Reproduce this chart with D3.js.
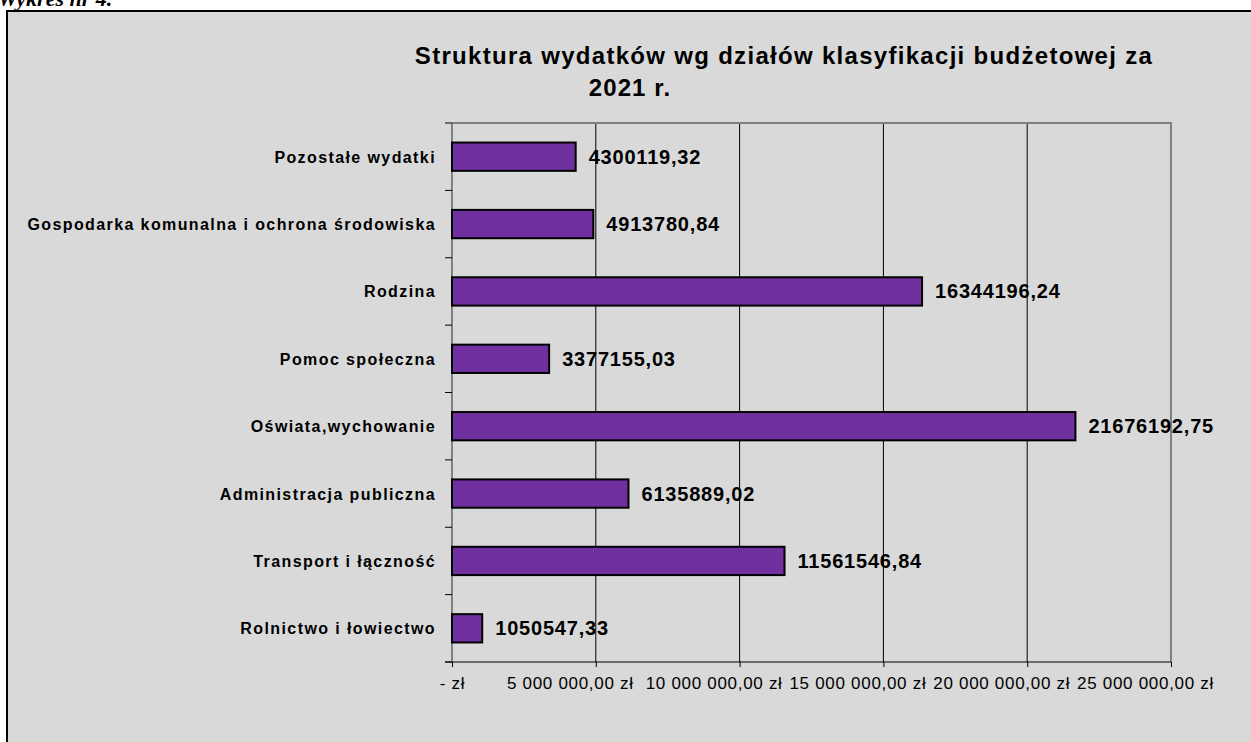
<!DOCTYPE html>
<html>
<head>
<meta charset="utf-8">
<script src="https://cdn.jsdelivr.net/npm/d3@7"></script>
<style>
  body { margin: 0; background: #fff; }
  svg { display: block; }
</style>
</head>
<body>
<div id="chart"></div>
<script>
// data
const categories = [
    "Pozostałe wydatki",
    "Gospodarka komunalna i ochrona środowiska",
    "Rodzina",
    "Pomoc społeczna",
    "Oświata,wychowanie",
    "Administracja publiczna",
    "Transport i łączność",
    "Rolnictwo i łowiectwo"
];
const values = [4300119.32, 4913780.84, 16344196.24, 3377155.03, 21676192.75, 6135889.02, 11561546.84, 1050547.33];
const tickValues = [0, 5000000, 10000000, 15000000, 20000000, 25000000];
const titleLines = ["Struktura wydatków wg działów klasyfikacji budżetowej za", "2021 r."];

const W = 1251, H = 742;
const plot = { left: 452, right: 1171, top: 123, bottom: 662 };

const svg = d3.select("#chart").append("svg")
    .attr("width", W)
    .attr("height", H);

// caption above the frame (cut off at the top, as in the source)
svg.append("text")
    .attr("x", -2)
    .attr("y", 6)
    .style("font-family", "'Liberation Serif', 'Times New Roman', serif")
    .style("font-weight", "bold")
    .style("font-style", "italic")
    .style("font-size", "22px")
    .text("Wykres nr 4.");

// chart frame
svg.append("rect")
    .attr("x", 7)
    .attr("y", 11)
    .attr("width", W + 20)
    .attr("height", H + 20)
    .style("fill", "#d9d9d9")
    .style("stroke", "#000")
    .style("stroke-width", 2);

// title
svg.append("text")
    .attr("x", 784)
    .attr("y", 64)
    .attr("text-anchor", "middle")
    .style("font-family", "'Liberation Sans', Arial, sans-serif")
    .style("font-weight", "bold")
    .style("font-size", "24px")
    .style("letter-spacing", "1.3px")
    .text(titleLines[0]);
svg.append("text")
    .attr("x", 630)
    .attr("y", 96)
    .attr("text-anchor", "middle")
    .style("font-family", "'Liberation Sans', Arial, sans-serif")
    .style("font-weight", "bold")
    .style("font-size", "24px")
    .style("letter-spacing", "1.1px")
    .text(titleLines[1]);

const x = d3.scaleLinear()
    .domain([0, 25000000])
    .range([plot.left, plot.right]);

const y = d3.scaleBand()
    .domain(categories)
    .range([plot.top, plot.bottom])
    .paddingInner(0.58)
    .paddingOuter(0.29);

const pl = d3.formatLocale({ decimal: ",", thousands: " ", grouping: [3], currency: ["", " zł"] });
const money = pl.format("$,.2f");

// gridlines
svg.append("g")
    .selectAll("line")
    .data(tickValues.slice(1, -1))
    .join("line")
    .attr("x1", d => x(d))
    .attr("x2", d => x(d))
    .attr("y1", plot.top)
    .attr("y2", plot.bottom)
    .style("stroke", "#000")
    .style("stroke-width", 1);

// plot border (top + right)
svg.append("path")
    .attr("d", `M${plot.left},${plot.top} H${plot.right} V${plot.bottom}`)
    .style("fill", "none")
    .style("stroke", "#808080")
    .style("stroke-width", 2);

// left axis line
svg.append("line")
    .attr("x1", plot.left)
    .attr("x2", plot.left)
    .attr("y1", plot.top)
    .attr("y2", plot.bottom)
    .style("stroke", "#808080")
    .style("stroke-width", 2);

// category ticks on band boundaries
svg.append("g")
    .selectAll("line")
    .data(d3.range(categories.length + 1))
    .join("line")
    .attr("x1", plot.left - 7)
    .attr("x2", plot.left)
    .attr("y1", i => plot.top + i * y.step())
    .attr("y2", i => plot.top + i * y.step())
    .style("stroke", "#000")
    .style("stroke-width", 1);

// bars
svg.append("g")
    .selectAll("rect")
    .data(values)
    .join("rect")
    .attr("x", x(0))
    .attr("y", (d, i) => y(categories[i]))
    .attr("width", d => x(d) - x(0))
    .attr("height", y.bandwidth())
    .style("fill", "#7030a0")
    .style("stroke", "#000")
    .style("stroke-width", 2);

// value labels
svg.append("g")
    .selectAll("text")
    .data(values)
    .join("text")
    .attr("x", d => x(d) + 13)
    .attr("y", (d, i) => y(categories[i]) + y.bandwidth() / 2 + 7)
    .style("font-family", "'Liberation Sans', Arial, sans-serif")
    .style("font-weight", "bold")
    .style("font-size", "20px")
    .style("letter-spacing", "0.8px")
    .text(d => d.toFixed(2).replace(".", ","));

// category labels
svg.append("g")
    .selectAll("text")
    .data(categories)
    .join("text")
    .attr("x", 436)
    .attr("y", d => y(d) + y.bandwidth() / 2 + 6)
    .attr("text-anchor", "end")
    .style("font-family", "'Liberation Sans', Arial, sans-serif")
    .style("font-weight", "bold")
    .style("font-size", "16px")
    .style("letter-spacing", "1.4px")
    .text(d => d);

// bottom axis
const xAxis = d3.axisBottom(x)
    .tickValues(tickValues)
    .tickSize(5)
    .tickFormat(d => d === 0 ? "-    zł" : money(d));

const gx = svg.append("g")
    .attr("transform", `translate(0,${plot.bottom})`)
    .call(xAxis);
gx.select(".domain").remove();
gx.append("line")
    .attr("x1", plot.left - 7)
    .attr("x2", plot.right)
    .style("stroke", "#000");
gx.selectAll(".tick line").style("stroke", "#000");
gx.selectAll(".tick text")
    .attr("y", 15)
    .attr("dy", "0.71em")
    .attr("transform", d => `translate(${d === 0 ? 0 : -26},0)`)
    .style("font-family", "'Liberation Sans', Arial, sans-serif")
    .style("font-size", "17px")
    .style("letter-spacing", "0.7px")
    .style("fill", "#000");
</script>
</body>
</html>
